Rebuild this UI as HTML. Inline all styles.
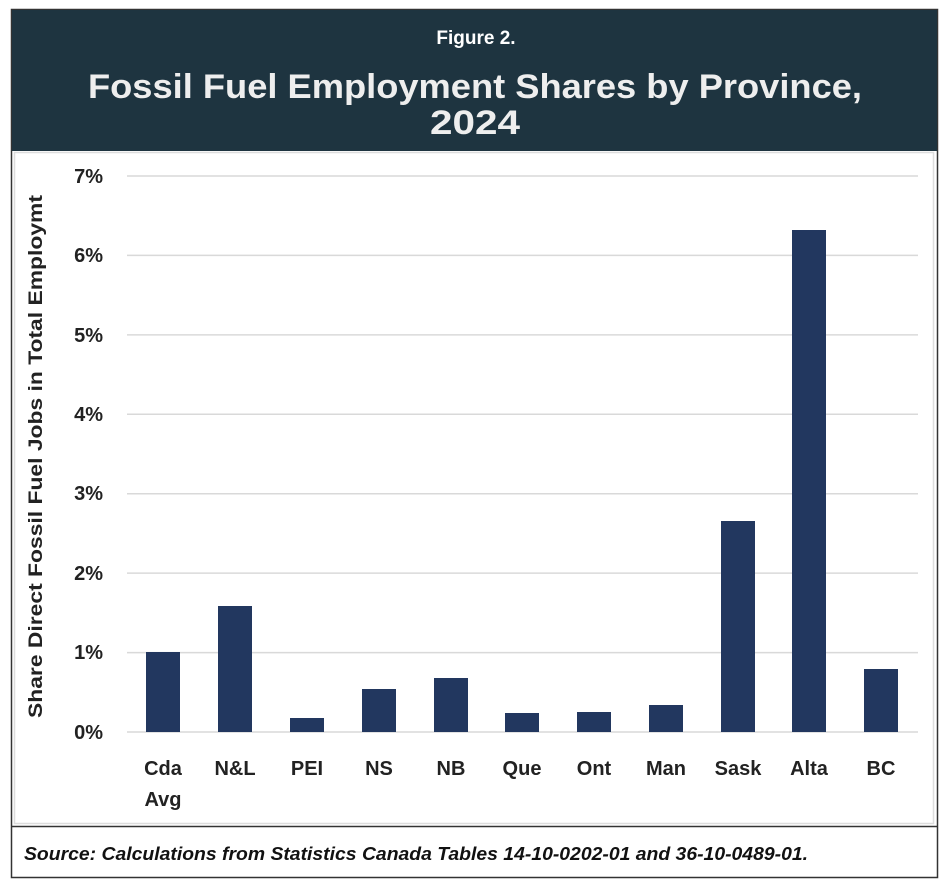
<!DOCTYPE html>
<html><head><meta charset="utf-8"><style>
body{margin:0;width:952px;height:890px;background:#fff;font-family:"Liberation Sans",sans-serif;}
</style></head><body>
<svg width="952" height="890" xmlns="http://www.w3.org/2000/svg" font-family="Liberation Sans, sans-serif">
<rect x="11.5" y="9.5" width="926" height="868" fill="#fff" stroke="#333" stroke-width="1.5"/>
<rect x="12" y="10" width="925" height="141" fill="#1e3440"/>
<rect x="14.5" y="152.5" width="919" height="671" fill="none" stroke="#ddd" stroke-width="1.5"/>
<line x1="11" y1="826.5" x2="938" y2="826.5" stroke="#333" stroke-width="1.5"/>
<text x="476" y="44" fill="#fff" font-size="19" font-weight="bold" text-anchor="middle">Figure 2.</text>
<text x="88" y="98" fill="#eee" font-size="34" font-weight="bold" textLength="774" lengthAdjust="spacingAndGlyphs">Fossil Fuel Employment Shares by Province,</text>
<text x="430" y="134" fill="#eee" font-size="34" font-weight="bold" textLength="90" lengthAdjust="spacingAndGlyphs">2024</text>
<g stroke="#d9d9d9" stroke-width="1.5">
<line x1="127" x2="918" y1="176" y2="176"/><line x1="127" x2="918" y1="255.4" y2="255.4"/>
<line x1="127" x2="918" y1="334.9" y2="334.9"/><line x1="127" x2="918" y1="414.3" y2="414.3"/>
<line x1="127" x2="918" y1="493.7" y2="493.7"/><line x1="127" x2="918" y1="573.1" y2="573.1"/>
<line x1="127" x2="918" y1="652.6" y2="652.6"/><line x1="127" x2="918" y1="732" y2="732"/>
</g>
<g font-size="20" font-weight="bold" fill="#222" text-anchor="end">
<text x="103" y="183">7%</text><text x="103" y="262">6%</text><text x="103" y="342">5%</text>
<text x="103" y="421">4%</text><text x="103" y="500">3%</text><text x="103" y="580">2%</text>
<text x="103" y="659">1%</text><text x="103" y="739">0%</text>
</g>
<text transform="translate(42,718) rotate(-90)" font-size="19" font-weight="bold" fill="#222" textLength="523" lengthAdjust="spacingAndGlyphs">Share Direct Fossil Fuel Jobs in Total Employmt</text>
<g fill="#22375f">
<rect x="146" y="652" width="34" height="80"/>
<rect x="218" y="606" width="34" height="126"/>
<rect x="290" y="718" width="34" height="14"/>
<rect x="362" y="689" width="34" height="43"/>
<rect x="434" y="678" width="34" height="54"/>
<rect x="505" y="713" width="34" height="19"/>
<rect x="577" y="712" width="34" height="20"/>
<rect x="649" y="705" width="34" height="27"/>
<rect x="721" y="521" width="34" height="211"/>
<rect x="792" y="230" width="34" height="502"/>
<rect x="864" y="669" width="34" height="63"/>
</g>
<g font-size="20" font-weight="bold" fill="#222" text-anchor="middle">
<text x="163" y="775">Cda</text><text x="163" y="806">Avg</text>
<text x="235" y="775">N&amp;L</text><text x="307" y="775">PEI</text><text x="379" y="775">NS</text>
<text x="451" y="775">NB</text><text x="522" y="775">Que</text><text x="594" y="775">Ont</text>
<text x="666" y="775">Man</text><text x="738" y="775">Sask</text><text x="809" y="775">Alta</text>
<text x="881" y="775">BC</text>
</g>
<text x="24" y="860" font-size="18" font-weight="bold" font-style="italic" fill="#111" textLength="784" lengthAdjust="spacingAndGlyphs">Source: Calculations from Statistics Canada Tables 14-10-0202-01 and 36-10-0489-01.</text>
</svg>
</body></html>
